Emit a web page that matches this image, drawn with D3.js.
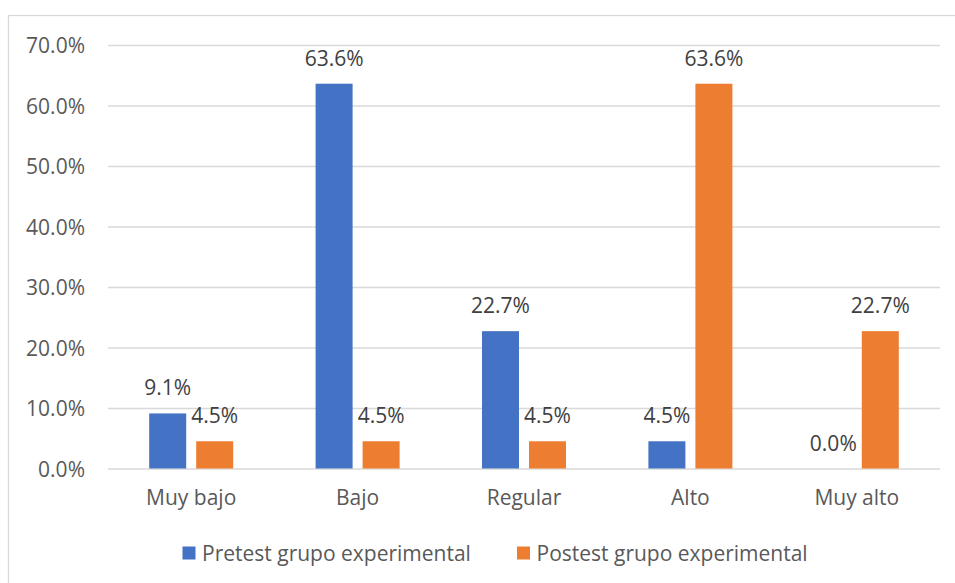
<!DOCTYPE html>
<html><head><meta charset="utf-8">
<script src="https://cdn.jsdelivr.net/npm/d3@7"></script>
<style>body{margin:0;background:#fff;} svg{display:block;}</style>
</head><body>
<svg id="c" width="955" height="583"></svg>
<script>
const categories = ["Muy bajo", "Bajo", "Regular", "Alto", "Muy alto"];
const seriesNames = ["Pretest grupo experimental", "Postest grupo experimental"];
const pretest = [9.1, 63.6, 22.7, 4.5, 0.0];
const postest = [4.5, 4.5, 4.5, 63.6, 22.7];
const yTicks = [0, 10, 20, 30, 40, 50, 60, 70];
const colors = ["#4472C4", "#ED7D31"];

(function () {
const svg = d3.select("#c");
const font = "'Open Sans', 'Noto Sans', sans-serif";
const textColor = "#595959";
const fs = "21px";

svg.append("rect").attr("x", 8.5).attr("y", 15.5).attr("width", 1000).attr("height", 700)
  .attr("fill", "#fff").attr("stroke", "#d9d9d9").attr("stroke-width", 1.3);

const pL = 108, pR = 940, pT = 45, pB = 468.5;
const x0 = d3.scaleBand().domain(categories).range([pL, pR]).paddingInner(0).paddingOuter(0);
const y = d3.scaleLinear().domain([0, 70]).range([pB, pT]);

const yAxis = d3.axisLeft(y).tickValues(yTicks).tickSize(-(pR - pL)).tickFormat(d => d.toFixed(1) + "%").tickPadding(23);
const gy = svg.append("g").attr("transform", `translate(${pL},0)`).call(yAxis);
gy.select(".domain").remove();
gy.selectAll(".tick line").attr("stroke", "#d9d9d9").attr("stroke-width", 1.3);
gy.selectAll(".tick text").attr("fill", textColor).style("font-family", font).style("font-size", fs)
  .attr("dy", null).attr("y", 7.7);

const barW = 37, gap = 10;
const data = categories.map((c, i) => ({ c, vals: [pretest[i], postest[i]] }));
const groups = svg.append("g").selectAll("g").data(data).join("g")
  .attr("transform", d => `translate(${x0(d.c) + x0.bandwidth() / 2},0)`);

const offsets = [-(gap / 2 + barW), gap / 2];
groups.selectAll("rect").data(d => d.vals.map((v, k) => ({ v, k }))).join("rect")
  .attr("x", d => offsets[d.k])
  .attr("y", d => y(d.v))
  .attr("width", barW)
  .attr("height", d => pB - y(d.v))
  .attr("fill", d => colors[d.k]);

groups.selectAll("text.lbl").data(d => d.vals.map((v, k) => ({ v, k }))).join("text")
  .attr("class", "lbl")
  .attr("x", d => offsets[d.k] + barW / 2)
  .attr("y", d => y(d.v) - 18)
  .attr("text-anchor", "middle")
  .attr("fill", "#404040").style("font-family", font).style("font-size", fs)
  .text(d => d.v.toFixed(1) + "%");

const xAxis = d3.axisBottom(x0).tickSize(0);
const gx = svg.append("g").attr("transform", `translate(0,${pB})`).call(xAxis);
gx.select(".domain").remove();
gx.selectAll(".tick text").attr("fill", textColor).style("font-family", font).style("font-size", fs)
  .attr("dy", null).attr("y", 36.5);

const legendX = [182.5, 517];
const lg = svg.append("g").selectAll("g").data(seriesNames).join("g")
  .attr("transform", (d, i) => `translate(${legendX[i]},553)`);
lg.append("rect").attr("x", 0).attr("y", -6.5).attr("width", 13).attr("height", 13).attr("fill", (d, i) => colors[i]);
lg.append("text").attr("x", 19.5).attr("y", 7.7)
  .attr("fill", textColor).style("font-family", font).style("font-size", fs).text(d => d);
})();
</script>
</body></html>
